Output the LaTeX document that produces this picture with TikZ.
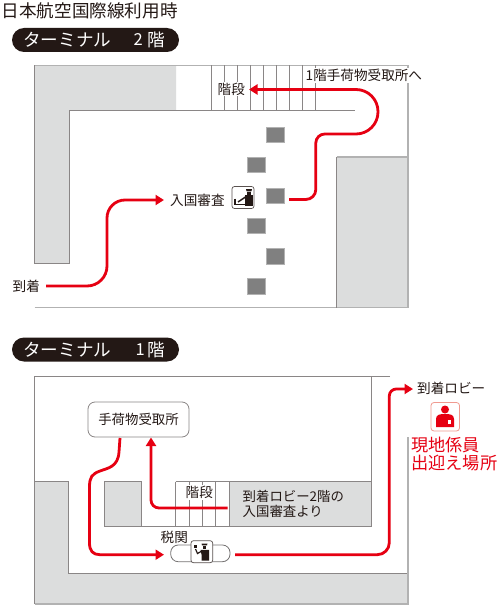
\documentclass[tikz,border=0pt]{standalone}
\usepackage{fontspec}
\setmainfont{Noto Sans CJK JP}
\usetikzlibrary{arrows.meta}
\definecolor{ink}{HTML}{231815}
\definecolor{wall}{HTML}{8A8686}
\definecolor{wallpale}{HTML}{B2B2B2}
\definecolor{zone}{HTML}{DCDDDD}
\definecolor{pillar}{HTML}{808080}
\definecolor{route}{HTML}{E60012}
\definecolor{pinkline}{HTML}{F09A90}
\newcommand{\fs}[1]{\fontsize{#1}{#1}\selectfont}
\tikzset{
  wallline/.style={draw=wall,line width=0.9pt},
  palewall/.style={draw=wallpale,line width=1.3pt},
  zonefill/.style={fill=zone,draw=none},
  redroute/.style={draw=route,line width=2.8pt},
  redarrow/.style={redroute,-{Triangle[length=8.5pt,width=10pt]}},
  pillarbox/.style={fill=pillar,draw=wallpale,line width=0.6pt},
  lab/.style={inner sep=0pt,text=ink,font=\fs{13.6},anchor=west},
  labw/.style={lab,fill=white,inner xsep=1pt,inner ysep=1pt},
  floorpill/.style={fill=ink,draw=none,rounded corners=12pt},
  pilltext/.style={inner sep=0pt,text=white,font=\fs{17.6},anchor=west},
  iconbox/.style={draw=ink!75,fill=white,line width=0.7pt,rounded corners=2.5pt},
}
\begin{document}
\begin{tikzpicture}[x=1pt,y=-1pt]
\useasboundingbox (0,0) rectangle (500,607);
\fill[white] (0,0) rectangle (500,607);

% title
\node[lab,font=\fs{17.6}] (title) at (1.5,10.5) {日本航空国際線利用時};

% floor pills
\fill[floorpill] (12,28) rectangle (179,52);
\node[pilltext] (pa) at (23,40) {ターミナル};
\node[pilltext,font=\fs{16.5}] (pb) at (133.5,40) {2};
\node[pilltext] (pc) at (147,40) {階};
\fill[floorpill] (12,337.5) rectangle (179,361.5);
\node[pilltext] (pd) at (23,349.5) {ターミナル};
\node[pilltext,font=\fs{16.5}] (pe) at (135.5,349.5) {1};
\node[pilltext] (pf) at (147,349.5) {階};

%%%% 2F plan
\fill[zonefill] (34.5,65.5) -- (176,65.5) -- (176,110.5) -- (69.5,110.5) -- (69.5,263) -- (34.5,263) -- cycle;
\fill[zonefill] (336.5,157) rectangle (408,307.5);
\draw[palewall] (34.5,65.5) -- (408,65.5) -- (408,157);
\draw[wallline] (34.5,65.5) -- (34.5,263) -- (69.5,263) -- (69.5,110.5) -- (355,110.5);
\draw[palewall] (34.5,307.7) -- (336.5,307.7);
\draw[palewall] (336.5,157) -- (408,157) -- (408,307.7) -- (336.5,307.7);
\draw[wallline] (336.5,157) -- (336.5,307.7);
\foreach \sx in {211.5,224.5,237.5,250.5,263.5,276.5,289.5,302.5,315.5}
  \draw[wall,line width=0.7pt] (\sx,65.5) -- (\sx,110.5);

% pillars
\draw[pillarbox] (266,127) rectangle (284,142);
\draw[pillarbox] (247,157) rectangle (265,172);
\draw[pillarbox] (266,188) rectangle (284,203);
\draw[pillarbox] (247,218) rectangle (265,233.5);
\draw[pillarbox] (266,248.5) rectangle (284,264);
\draw[pillarbox] (247,278.5) rectangle (265,294);

% 2F labels
\node[labw] (stairA) at (216.5,89) {階段};
\node[labw] (toBag) at (304.5,75.5) {1階手荷物受取所へ};
\node[lab] (arrive) at (12.5,286) {到着};
\node[lab] (immig) at (170,200) {入国審査};

% 2F officer icon
\draw[iconbox] (232,186.5) rectangle (254,208.5);
\fill[ink] (246,189.2) -- (252,189.2) -- (251.4,191.3) -- (246.6,191.3) -- cycle;
\fill[ink] (247.3,191.8) rectangle (250.7,194.6);
\fill[ink] (244.6,195.2) -- (253,195.2) -- (253,205.5) -- (244.6,205.5) -- cycle;
\draw[ink,line width=1.5pt] (235.2,198.5) -- (235.2,204.6) -- (245,204.6);
\draw[ink,line width=1.5pt] (238,202) -- (245.5,197);

% 2F routes
\coordinate (arriveEnd) at (46,286);
\coordinate (pillarEnd) at (289,199.5);
\draw[redarrow] (arriveEnd) [rounded corners=20pt] -- (107,286) [rounded corners=18pt] -- (107,200) [sharp corners] -- (164,200);
\draw[redarrow] (pillarEnd) [rounded corners=10pt] -- (315.8,199.5) [rounded corners=9pt] -- (315.8,134) [rounded corners=22pt] -- (378,134) -- (378,89.5) [sharp corners] -- (249,89.5);

%%%% 1F plan
\fill[zonefill] (34.5,481) -- (68.5,481) -- (68.5,573.3) -- (408,573.3) -- (408,604) -- (34.5,604) -- cycle;
\fill[zonefill] (104,481) rectangle (141,526.5);
\fill[zonefill] (229.5,481.5) rectangle (371,526.5);
\draw[wallline] (390,376) -- (34.5,376) -- (34.5,604);
\draw[wallline] (34.5,481) -- (68.5,481) -- (68.5,573.3) -- (408,573.3);
\draw[palewall] (34.5,604) -- (408,604) -- (408,437);
\draw[wallline] (371,376) -- (371,526.5) -- (104,526.5) -- (104,481) -- (141,481) -- (141,526.5);
\draw[wallline] (175.7,481.5) -- (371,481.5);
\foreach \sx in {175.7,189,202.5,215,229.5}
  \draw[wall,line width=0.7pt] (\sx,481.5) -- (\sx,526.5);

% 1F nodes
\node[draw=wall,fill=white,line width=0.8pt,rounded corners=7pt,minimum width=101pt,minimum height=35pt,inner sep=0pt,text=ink,font=\fs{13.4}] (bags) at (138.5,419.5) {手荷物受取所};
\node[labw] (stairB) at (184.5,492.5) {階段};
\node[lab,fill=zone,font=\fs{13.4},text depth=0pt] (fromTwo) at (242.5,496) {到着ロビー2階の};
\node[lab,fill=zone,font=\fs{13.4},text depth=0pt] (fromTwoB) at (242.5,510.5) {入国審査より};
\node[lab] (customs) at (160.5,537) {税関};
\node[lab] (lobby) at (417,388.5) {到着ロビー};
\node[lab,text=route,font=\fs{17.2}] (staffA) at (411,445) {現地係員};
\node[lab,text=route,font=\fs{17.2}] (staffB) at (411,463) {出迎え場所};

% customs desk
\draw[wall!85!black,fill=white,line width=0.8pt,rounded corners=7.5pt] (170.7,545) rectangle (230,561.7);
\draw[iconbox] (191,540.7) rectangle (212.7,562.7);
\fill[ink] (201.5,543.5) -- (207.5,543.5) -- (207,545.4) -- (202,545.4) -- cycle;
\fill[ink] (203,546) rectangle (206,549);
\fill[ink] (200.5,549.8) -- (209,549.8) -- (209,560.5) -- (201.5,560.5) -- (201.5,554.5) -- cycle;
\draw[ink,line width=1.2pt] (195.5,549) -- (197.5,553.5) -- (201,551.5);
\fill[ink] (194.2,544.8) rectangle (197,548.4);

% 1F routes
\coordinate (bagsOut) at (120,438);
\coordinate (stairOut) at (227.7,508);
\coordinate (customsOut) at (235,554.7);
\draw[redarrow] (bagsOut) -- (119,452) .. controls (118,467) and (108,468) .. (100,471) .. controls (92,474) and (89.5,477) .. (89.5,487) -- (89.5,543) .. controls (89.5,551) and (93,554.7) .. (100,554.7) -- (164,554.7);
\draw[redarrow] (stairOut) [rounded corners=8pt] -- (151,508) [sharp corners] -- (151,437.5);
\draw[redarrow] (customsOut) [rounded corners=12pt] -- (389.3,554.7) [rounded corners=7pt] -- (389.3,389) [sharp corners] -- (413,389);

% staff icon
\draw[pinkline,fill=white,line width=0.8pt,rounded corners=3pt] (431,402.5) rectangle (459.5,431);
\fill[route] (445,409.5) circle (4pt);
\fill[route] (436,427) -- (436,419) .. controls (436,414.5) and (440,414) .. (445,414) .. controls (450,414) and (454,414.5) .. (454,419) -- (454,427) -- cycle;
\fill[white] (447.5,420) rectangle (451,424);
\end{tikzpicture}
\end{document}
